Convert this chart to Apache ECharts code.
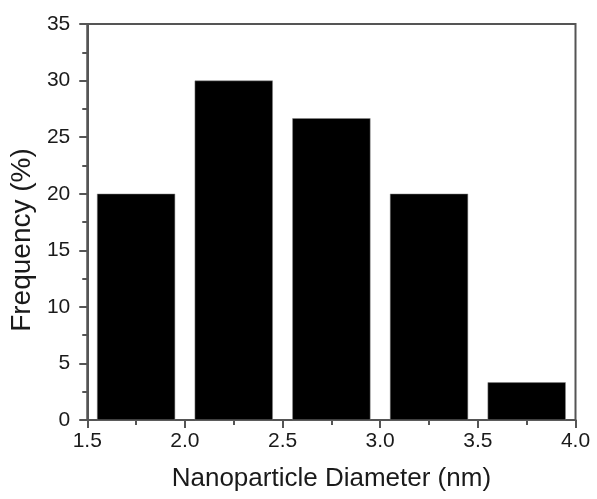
<!DOCTYPE html>
<html>
<head>
<meta charset="utf-8">
<script src="https://cdn.jsdelivr.net/npm/echarts@6/dist/echarts.min.js"></script>
<style>html,body{margin:0;padding:0;background:#fff}#c{width:597px;height:499px}</style>
</head>
<body>
<div id="c"></div>
<script>
const categories = ['1.5-2.0', '2.0-2.5', '2.5-3.0', '3.0-3.5', '3.5-4.0'];
const frequency = [20, 30, 26.67, 20, 3.33];
const xTicks = [1.5, 2.0, 2.5, 3.0, 3.5, 4.0];
const yTicks = [0, 5, 10, 15, 20, 25, 30, 35];

const chart = echarts.init(document.getElementById('c'), null, {renderer: 'canvas'});
const axisCol = '#555';
const font = 'Liberation Sans, Arial, sans-serif';
chart.setOption({
  animation: false,
  backgroundColor: '#fff',
  grid: {left: 85, right: 21.5, top: 24, bottom: 79, show: true, borderColor: axisCol, borderWidth: 2, backgroundColor: 'transparent'},
  xAxis: [{
    type: 'value', min: xTicks[0], max: xTicks[xTicks.length - 1], interval: 0.5,
    name: 'Nanoparticle Diameter (nm)', nameLocation: 'middle', nameGap: 46,
    nameTextStyle: {fontFamily: font, fontSize: 26, color: '#1a1a1a'},
    axisLine: {lineStyle: {color: axisCol, width: 2}},
    axisTick: {inside: false, length: 8, lineStyle: {color: axisCol, width: 2}},
    minorTick: {show: true, splitNumber: 2, length: 5, lineStyle: {color: axisCol, width: 2}},
    splitLine: {show: false},
    axisLabel: {fontFamily: font, fontSize: 21, color: '#1a1a1a', margin: 11, formatter: v => v.toFixed(1)}
  }, {
    type: 'category', data: categories, position: 'bottom', show: false,
    boundaryGap: true
  }],
  yAxis: {
    type: 'value', min: yTicks[0], max: yTicks[yTicks.length - 1], interval: 5,
    name: 'Frequency (%)', nameLocation: 'middle', nameGap: 50,
    nameTextStyle: {fontFamily: font, fontSize: 28, color: '#1a1a1a', padding: [0, 36, 0, 0]},
    axisLine: {show: true, lineStyle: {color: axisCol, width: 2}},
    axisTick: {show: true, inside: false, length: 8, lineStyle: {color: axisCol, width: 2}},
    minorTick: {show: true, splitNumber: 2, length: 5, lineStyle: {color: axisCol, width: 2}},
    splitLine: {show: false},
    axisLabel: {fontFamily: font, fontSize: 21, color: '#1a1a1a', margin: 17}
  },
  series: [{
    type: 'bar', xAxisIndex: 1, data: frequency,
    barCategoryGap: '20%',
    itemStyle: {color: '#000', borderColor: '#888', borderWidth: 0.5}
  }]
});
</script>
</body>
</html>
